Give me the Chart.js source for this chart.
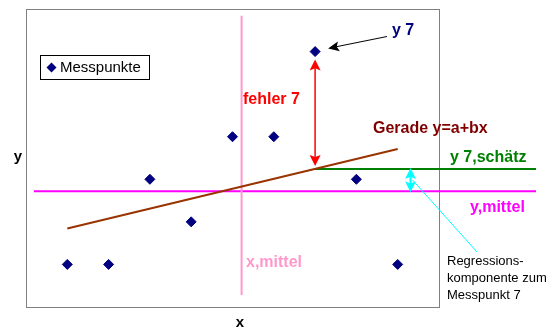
<!DOCTYPE html>
<html lang="de">
<head>
<meta charset="utf-8">
<title>Regression</title>
<script src="https://cdn.jsdelivr.net/npm/chart.js@4/dist/chart.umd.min.js"></script>
<style>
  body { margin: 0; background: #fff; }
  canvas { display: block; }
</style>
</head>
<body>
<canvas id="regressionChart" width="554" height="334"></canvas>
<script>
// Messpunkte
const xWerte = [1, 2, 3, 4, 5, 6, 7, 8, 9];
const yWerte = [1, 1, 3, 2, 4, 4, 6, 3, 1];

// Achsenbereiche
const xBereich = [0, 10];
const yBereich = [0, 7];

// Hilfslinien
const xMittel = 5.22;
const yMittel = 2.72;
const xMittelVon = 0.28, xMittelBis = 6.84;
const yMittelVon = 0.19;
const linienEnde = 12.35;
const punktNr = 7;
const xKomponente = 9.31;

// Regressionsgerade y = a + b*x
function regression(xs, ys) {
    const n = xs.length;
    const mx = xs.reduce((s, v) => s + v, 0) / n;
    const my = ys.reduce((s, v) => s + v, 0) / n;
    let sxy = 0, sxx = 0;
    for (let i = 0; i < n; i++) {
        sxy += (xs[i] - mx) * (ys[i] - my);
        sxx += (xs[i] - mx) * (xs[i] - mx);
    }
    const b = sxy / sxx;
    return { a: my - b * mx, b: b };
}
const gerade = regression(xWerte, yWerte);
const geradeWert = x => gerade.a + gerade.b * x;
const xErster = xWerte[0];
const xLetzter = xWerte[xWerte.length - 1];
const y7 = yWerte[punktNr - 1];
const x7 = xWerte[punktNr - 1];
const y7Schaetz = geradeWert(x7);

// Pfeilspitze zeichnen
function pfeilspitze(ctx, x, y, winkel, laenge, breite) {
    ctx.save();
    ctx.translate(x, y);
    ctx.rotate(winkel);
    ctx.beginPath();
    ctx.moveTo(0, 0);
    ctx.lineTo(-laenge, -breite / 2);
    ctx.lineTo(-laenge * 0.8, 0);
    ctx.lineTo(-laenge, breite / 2);
    ctx.closePath();
    ctx.fill();
    ctx.restore();
}

function doppelpfeil(ctx, x, yOben, yUnten, farbe, breite, spitze) {
    ctx.save();
    ctx.strokeStyle = farbe;
    ctx.fillStyle = farbe;
    ctx.lineWidth = breite;
    ctx.beginPath();
    ctx.moveTo(x, yOben + 4);
    ctx.lineTo(x, yUnten - 4);
    ctx.stroke();
    pfeilspitze(ctx, x, yOben, -Math.PI / 2, spitze, 11);
    pfeilspitze(ctx, x, yUnten, Math.PI / 2, spitze, 11);
    ctx.restore();
}

function text(ctx, t, x, y, farbe, schrift, align) {
    ctx.fillStyle = farbe;
    ctx.font = schrift;
    ctx.textAlign = align || 'left';
    ctx.textBaseline = 'middle';
    ctx.fillText(t, x, y);
}

// Rahmen und Beschriftungen
const rahmenPlugin = {
    id: 'rahmen',
    beforeDatasetsDraw(chart) {
        const { ctx, chartArea } = chart;
        ctx.save();
        ctx.strokeStyle = '#808080';
        ctx.lineWidth = 1;
        ctx.strokeRect(Math.round(chartArea.left) + 0.5, Math.round(chartArea.top) + 0.5,
            Math.round(chartArea.right - chartArea.left), Math.round(chartArea.bottom - chartArea.top));
        ctx.restore();
    },
    afterDraw(chart) {
        const { ctx } = chart;
        const sx = chart.scales.x, sy = chart.scales.y;
        ctx.save();

        // fehler 7 (roter Doppelpfeil)
        const px7 = sx.getPixelForValue(x7);
        doppelpfeil(ctx, px7, sy.getPixelForValue(y7) + 8, sy.getPixelForValue(y7Schaetz) - 3, '#ff0000', 1.5, 11);

        // Regressionskomponente (türkiser Doppelpfeil)
        const pxK = sx.getPixelForValue(xKomponente);
        doppelpfeil(ctx, pxK, sy.getPixelForValue(y7Schaetz) - 1, sy.getPixelForValue(yMittel) + 1, '#00ffff', 2, 11);
        ctx.strokeStyle = '#00ffff';
        ctx.lineWidth = 1;
        ctx.beginPath();
        ctx.moveTo(pxK + 2, 180);
        ctx.lineTo(477, 252);
        ctx.stroke();

        // Pfeil zu y 7
        ctx.strokeStyle = '#000000';
        ctx.fillStyle = '#000000';
        ctx.lineWidth = 1;
        const spitzeX = px7 + 13, spitzeY = sy.getPixelForValue(y7) - 3;
        ctx.beginPath();
        ctx.moveTo(387, 36.5);
        ctx.lineTo(spitzeX + 8, spitzeY - 1.8);
        ctx.stroke();
        pfeilspitze(ctx, spitzeX, spitzeY, Math.atan2(spitzeY - 36.5, spitzeX - 387), 11, 10);

        // Beschriftungen
        const fett = 'bold 16px "Liberation Sans", Arial, sans-serif';
        text(ctx, 'y 7', 392, 31, '#000080', fett);
        text(ctx, 'fehler 7', 243, 100, '#ff0000', fett);
        text(ctx, 'Gerade y=a+bx', 373, 129, '#800000', fett);
        text(ctx, 'y 7,schätz', 450, 158, '#008000', fett);
        text(ctx, 'y,mittel', 470, 208, '#ff00ff', fett);
        text(ctx, 'x,mittel', 246, 263, '#ff99cc', fett);
        const normal = '13px "Liberation Sans", Arial, sans-serif';
        text(ctx, 'Regressions-', 447, 261, '#000000', normal);
        text(ctx, 'komponente zum', 447, 278, '#000000', normal);
        text(ctx, 'Messpunkt 7', 447, 295, '#000000', normal);

        // Achsentitel
        const titel = 'bold 15px "Liberation Sans", Arial, sans-serif';
        text(ctx, 'y', 18, 157, '#000000', titel, 'center');
        text(ctx, 'x', 240, 323, '#000000', titel, 'center');

        // Legende
        ctx.strokeStyle = '#000000';
        ctx.lineWidth = 1;
        ctx.strokeRect(40.5, 55.5, 109, 24);
        ctx.fillStyle = '#000080';
        ctx.beginPath();
        ctx.moveTo(51.5, 62.5);
        ctx.lineTo(56.5, 67.5);
        ctx.lineTo(51.5, 72.5);
        ctx.lineTo(46.5, 67.5);
        ctx.closePath();
        ctx.fill();
        text(ctx, 'Messpunkte', 60, 68, '#000000', '15px "Liberation Sans", Arial, sans-serif');

        ctx.restore();
    }
};

// Diagramm erstellen
function erstelleDiagramm() {
    const ctx = document.getElementById('regressionChart').getContext('2d');
    new Chart(ctx, {
        type: 'scatter',
        data: {
            datasets: [
                {
                    label: 'Messpunkte',
                    data: xWerte.map((x, i) => ({ x: x, y: yWerte[i] })),
                    pointStyle: 'rectRot',
                    pointRadius: 5,
                    pointBackgroundColor: '#000080',
                    pointBorderColor: '#000080',
                    pointBorderWidth: 1,
                    order: 0
                },
                {
                    label: 'Gerade',
                    type: 'line',
                    data: [{ x: xErster, y: geradeWert(xErster) }, { x: xLetzter, y: geradeWert(xLetzter) }],
                    borderColor: '#993300',
                    borderWidth: 2,
                    pointRadius: 0,
                    order: 1
                },
                {
                    label: 'x,mittel',
                    type: 'line',
                    data: [{ x: xMittel, y: xMittelVon }, { x: xMittel, y: xMittelBis }],
                    borderColor: '#ff99cc',
                    borderWidth: 2,
                    pointRadius: 0,
                    order: 2
                },
                {
                    label: 'y 7,schätz',
                    type: 'line',
                    data: [{ x: x7, y: y7Schaetz }, { x: linienEnde, y: y7Schaetz }],
                    borderColor: '#008000',
                    borderWidth: 2,
                    pointRadius: 0,
                    clip: false,
                    order: 3
                },
                {
                    label: 'y,mittel',
                    type: 'line',
                    data: [{ x: yMittelVon, y: yMittel }, { x: linienEnde, y: yMittel }],
                    borderColor: '#ff00ff',
                    borderWidth: 2,
                    pointRadius: 0,
                    clip: false,
                    order: 4
                }
            ]
        },
        options: {
            responsive: false,
            animation: false,
            layout: { padding: { left: 26, top: 9, right: 115, bottom: 27 } },
            scales: {
                x: { type: 'linear', min: xBereich[0], max: xBereich[1], display: false },
                y: { type: 'linear', min: yBereich[0], max: yBereich[1], display: false }
            },
            plugins: {
                legend: { display: false },
                tooltip: { enabled: false }
            }
        },
        plugins: [rahmenPlugin]
    });
}

document.addEventListener('DOMContentLoaded', () => {
    erstelleDiagramm();
});
</script>
</body>
</html>
